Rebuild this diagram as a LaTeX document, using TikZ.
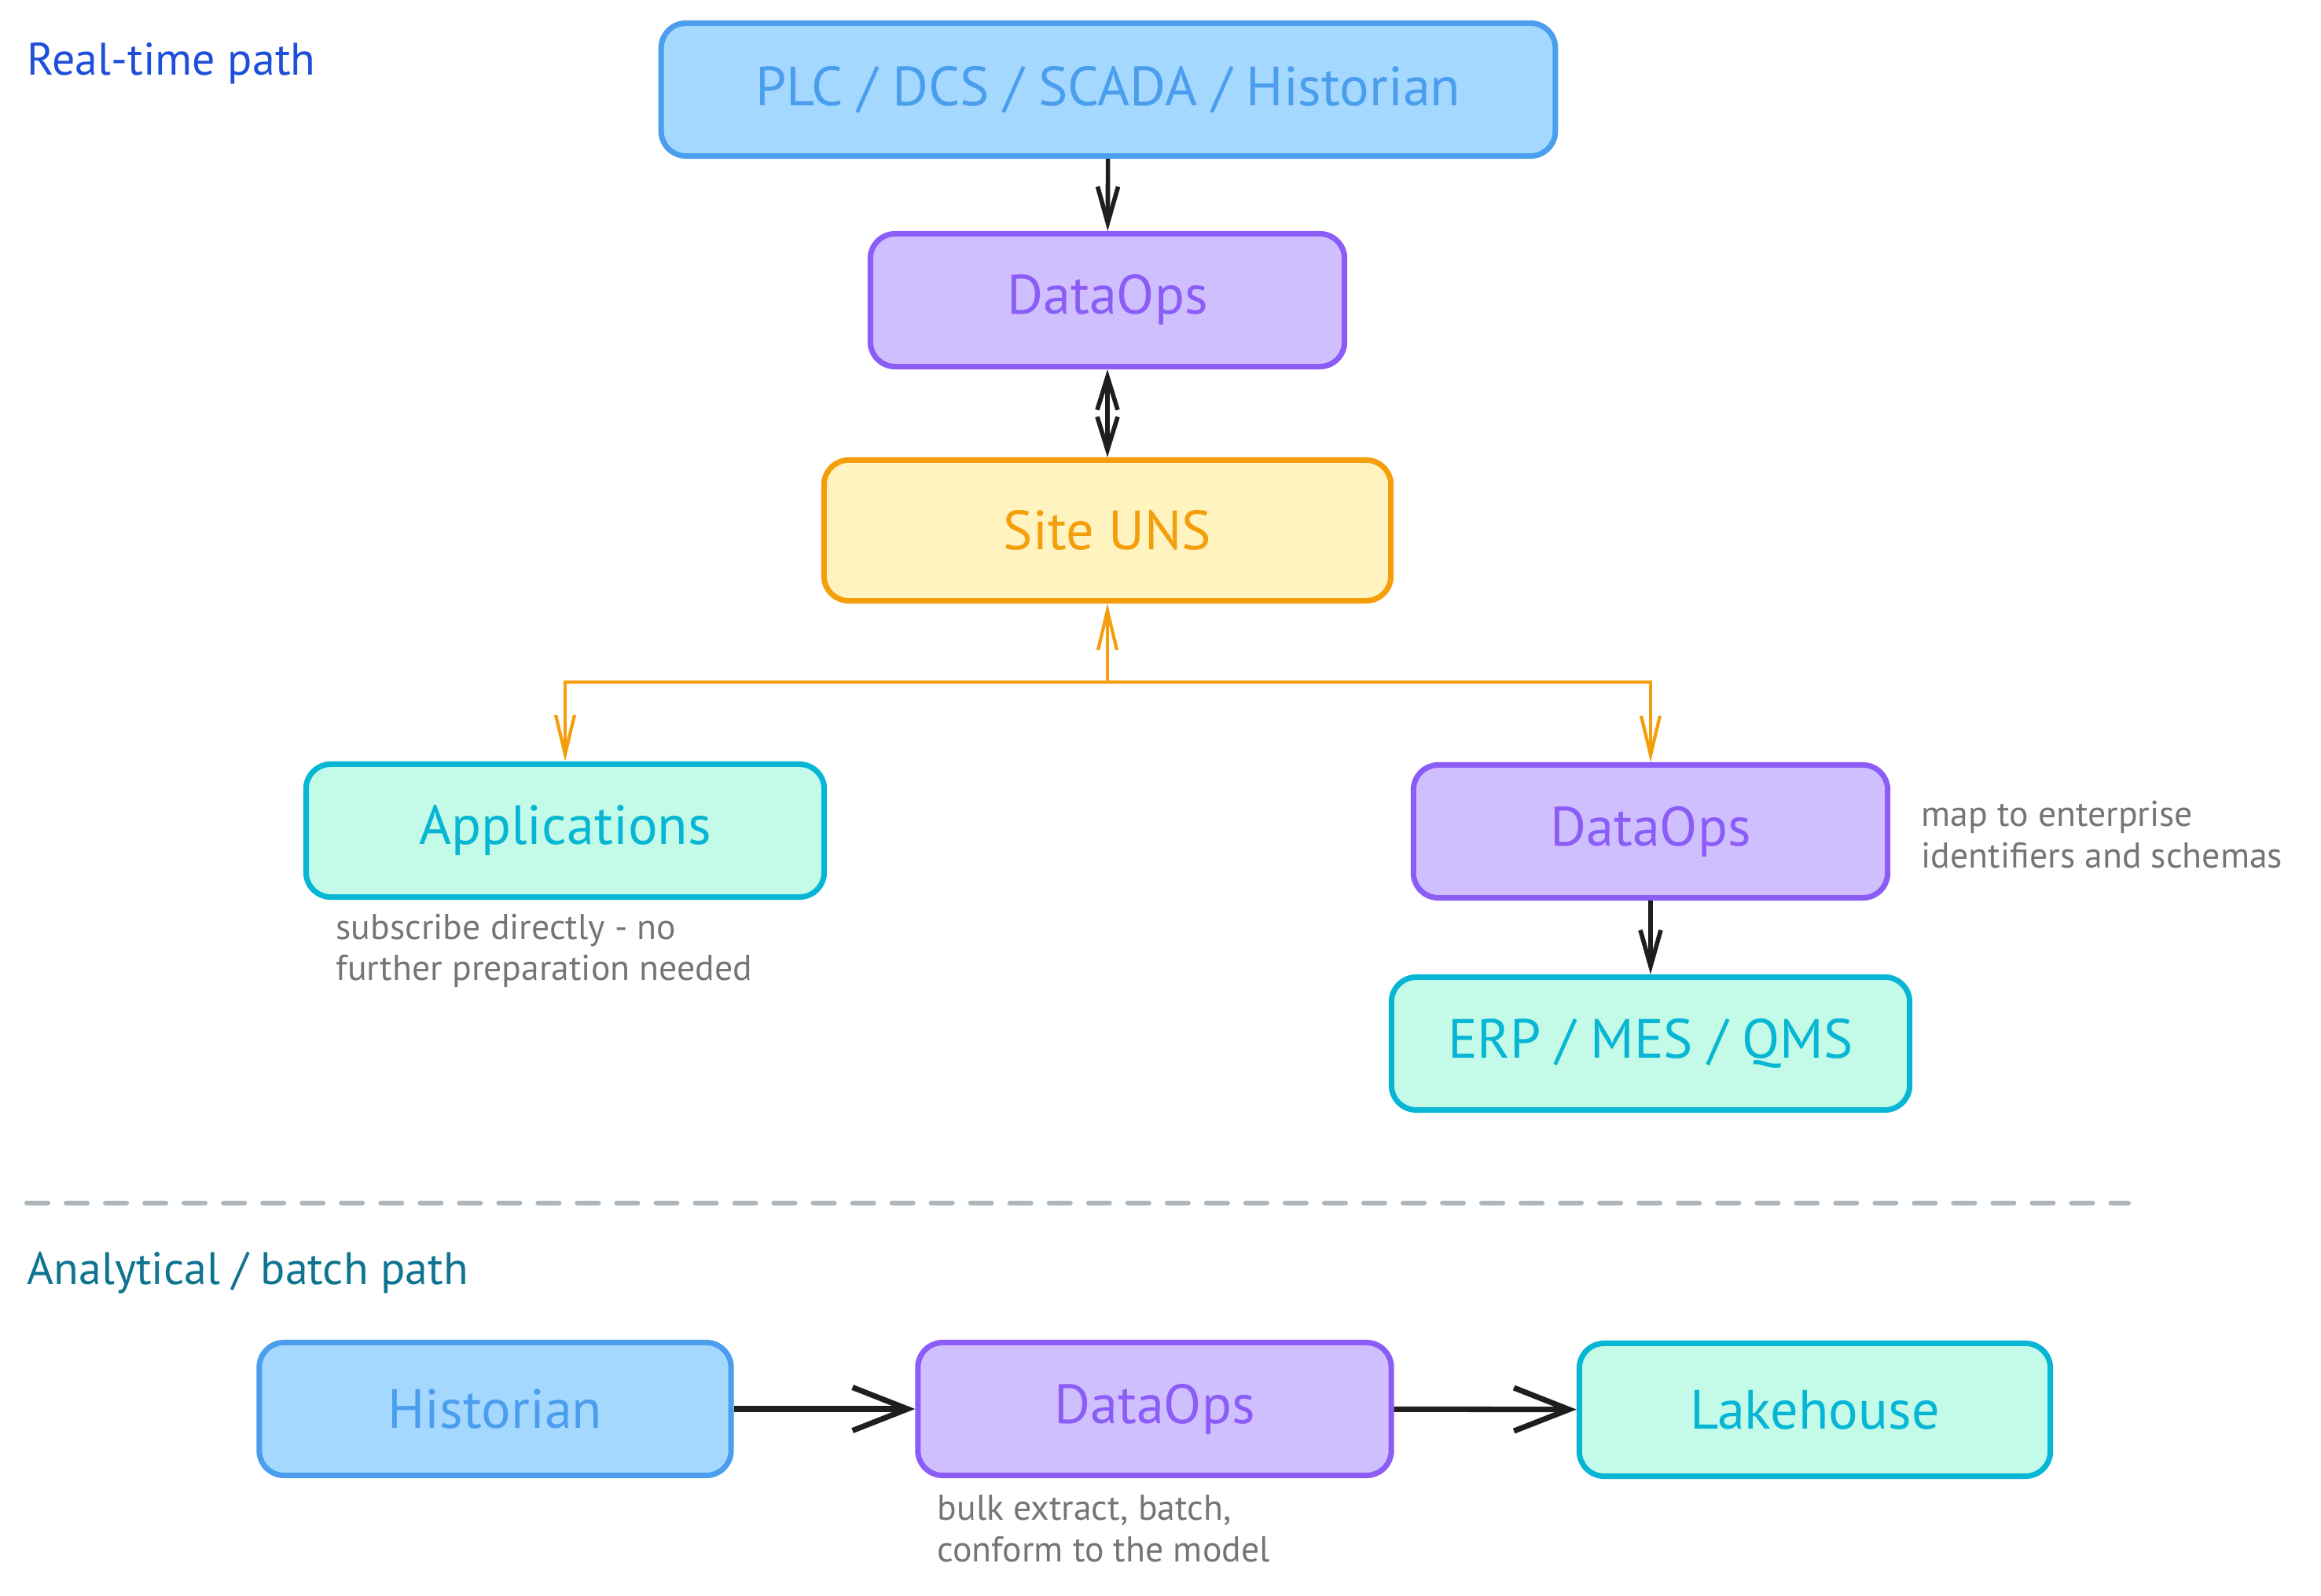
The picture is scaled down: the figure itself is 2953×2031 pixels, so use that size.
\documentclass[tikz,border=0pt]{standalone}
\usepackage{fontspec}
\setmainfont{PT Sans}
\usetikzlibrary{arrows.meta}
\definecolor{rtblue}{HTML}{1E4FD8}
\definecolor{abteal}{HTML}{0E7490}
\definecolor{srcfill}{HTML}{A5D8FF}
\definecolor{srcline}{HTML}{4A9EED}
\definecolor{opsfill}{HTML}{D0BFFF}
\definecolor{opsline}{HTML}{8B5CF6}
\definecolor{unsfill}{HTML}{FFF3BF}
\definecolor{unsline}{HTML}{F59E0B}
\definecolor{appfill}{HTML}{C3FAE8}
\definecolor{appline}{HTML}{06B6D4}
\definecolor{notegray}{HTML}{757575}
\definecolor{inkblack}{HTML}{1E1E1E}
\definecolor{rulegray}{HTML}{ADB5BD}

\begin{document}
\begin{tikzpicture}[x=0.01cm,y=-0.01cm,
  box/.style={rectangle,rounded corners=9pt,line width=2pt,minimum height=1.69cm,
    font=\fontsize{20}{24}\selectfont},
  srcbox/.style={box,draw=srcline,fill=srcfill,text=srcline},
  opsbox/.style={box,draw=opsline,fill=opsfill,text=opsline},
  unsbox/.style={box,draw=unsline,fill=unsfill,text=unsline},
  appbox/.style={box,draw=appline,fill=appfill,text=appline},
  heading/.style={anchor=west,inner sep=0pt,font=\fontsize{16.5}{19}\selectfont},
  note/.style={anchor=west,inner sep=0pt,align=left,text=notegray,font=\fontsize{13}{15}\selectfont},
  flow/.style={draw=inkblack,line width=1.6pt,-{Straight Barb[length=4.6mm,width=2.6mm]}},
  flowboth/.style={flow,{Straight Barb[length=4.2mm,width=2.6mm]}-{Straight Barb[length=4.2mm,width=2.6mm]}},
  batchflow/.style={draw=inkblack,line width=2pt,-{Straight Barb[length=7mm,width=5.5mm]}},
  fanout/.style={draw=unsline,line width=1.2pt,-{Straight Barb[length=5mm,width=2.4mm]}}]
\useasboundingbox (0,0) rectangle (2953,2031);
% real-time path
\node[heading,text=rtblue] (rthead) at (34,81) {Real-time path};
\node[srcbox,minimum width=11.37cm] (plc) at (1410,114) {PLC / DCS / SCADA / Historian};
\node[opsbox,minimum width=6.03cm] (opstop) at (1409,382) {DataOps};
\node[unsbox,minimum width=7.21cm,minimum height=1.79cm] (uns) at (1409,675) {Site UNS};
\node[appbox,minimum width=6.59cm] (app) at (719,1057) {Applications};
\node[opsbox,minimum width=6.03cm] (opsent) at (2100,1058) {DataOps};
\node[appbox,minimum width=6.59cm] (erp) at (2100,1328) {ERP / MES / QMS};
\node[note] (appnote) at (427,1210) {subscribe directly - no\\further preparation needed};
\node[note] (entnote) at (2444,1062) {map to enterprise\\identifiers and schemas};
\coordinate (fork) at (1409,868);
\draw[flow] (plc) -- (opstop);
\draw[flowboth] (opstop) -- (uns);
\draw[fanout] (fork) -- (uns.south);
\draw[fanout] (fork) -| (app.north);
\draw[fanout] (fork) -| (opsent.north);
\draw[flow] (opsent) -- (erp);
% divider
\draw[rulegray,line width=1.7pt,line cap=round,dash pattern=on 0.27cm off 0.23cm]
  (34,1531) -- (2708,1531);
% analytical / batch path
\node[heading,text=abteal] (abhead) at (34,1620) {Analytical / batch path};
\node[srcbox,minimum width=6.0cm] (hist) at (630,1793) {Historian};
\node[opsbox,minimum width=6.02cm] (opsbatch) at (1469,1793) {DataOps};
\node[appbox,minimum width=5.99cm] (lake) at (2309,1794) {Lakehouse};
\node[note] (batchnote) at (1192,1945) {bulk extract, batch,\\conform to the model};
\draw[batchflow] (hist) -- (opsbatch);
\draw[batchflow] (opsbatch) -- (lake);
\end{tikzpicture}
\end{document}
